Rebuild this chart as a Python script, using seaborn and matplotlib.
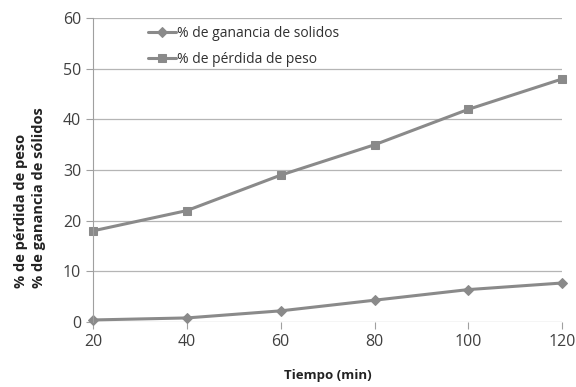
import pandas as pd
import numpy as np
import matplotlib
matplotlib.use("Agg")
import matplotlib.pyplot as plt
import seaborn as sns

tiempo = [20, 40, 60, 80, 100, 120]
ganancia_solidos = [0.4, 0.8, 2.2, 4.3, 6.4, 7.7]
perdida_peso = [18, 22, 29, 35, 42, 48]

sns.set_style("white")
plt.rcParams['font.family'] = ['Open Sans', 'DejaVu Sans']

fig = plt.figure(figsize=(5.76, 3.87), dpi=100)
ax = fig.add_axes([0.1615, 0.168, 0.8145, 0.785])

gray = '#8a8a8a'
sns.lineplot(x=tiempo, y=ganancia_solidos, ax=ax, color=gray, linewidth=2.2,
             marker='D', markersize=5, markeredgecolor=gray,
             label='% de ganancia de solidos')
sns.lineplot(x=tiempo, y=perdida_peso, ax=ax, color=gray, linewidth=2.2,
             marker='s', markersize=6, markeredgecolor=gray,
             label='% de pérdida de peso')

ax.set_xlim(20, 120)
ax.set_ylim(0, 60)
ax.set_xticks(tiempo)
ax.set_yticks(range(0, 61, 10))
ax.yaxis.grid(True, color='#b5b5b5', linewidth=0.9)
ax.xaxis.grid(False)
for s in ['top', 'right', 'bottom']:
    ax.spines[s].set_visible(False)
ax.spines['left'].set_color('#a0a0a0')
ax.tick_params(axis='x', length=5, color='#a0a0a0', labelsize=11.5, labelcolor='#404040', pad=4, direction='out', bottom=True)
ax.tick_params(axis='y', length=5, color='#a0a0a0', labelsize=11.5, labelcolor='#404040', left=True)
ax.set_xlabel('Tiempo (min)', fontsize=9.5, fontweight='bold', color='#222222', labelpad=13)
ax.set_ylabel('% de pérdida de peso\n% de ganancia de sólidos', fontsize=10.5,
              fontweight='bold', color='#222222', multialignment='left', linespacing=1.4)
ax.yaxis.set_label_coords(-0.1, 0.41)
for line in ax.lines:
    line.set_clip_on(False)

leg = ax.legend(loc='upper left', bbox_to_anchor=(0.09, 1.015), frameon=False,
                fontsize=10, handlelength=2.0, handletextpad=0.1, labelspacing=0.75)
for t in leg.get_texts():
    t.set_color('#303030')

fig.savefig('out.png', dpi=100)
